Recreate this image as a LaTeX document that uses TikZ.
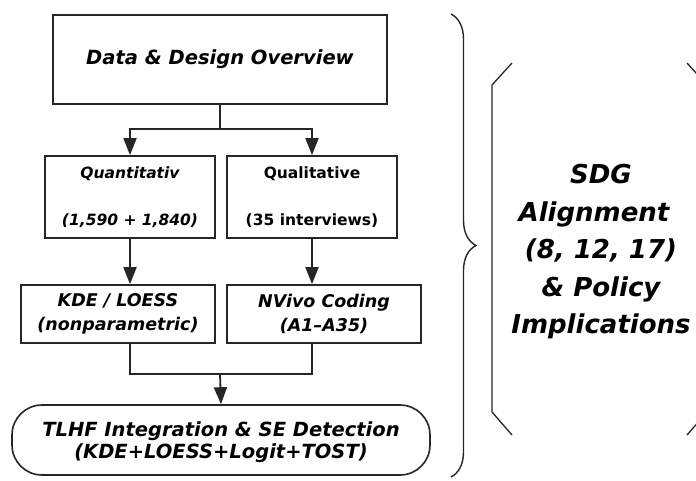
\documentclass[tikz,border=0pt]{standalone}
\usepackage{fontspec}
\setmainfont{DejaVu Sans}
\usetikzlibrary{arrows.meta,decorations.pathreplacing}
\tikzset{
	box/.style={draw=black!85, line width=1.6pt, rectangle, inner sep=0pt, align=center},
	arr/.style={draw=black!85, line width=1.8pt, -{Triangle[width=13pt,length=17pt]}},
	link/.style={draw=black!85, line width=1.8pt},
	bigbrace/.style={draw=black!85, line width=1.4pt, decorate, decoration={brace,amplitude=25pt}},
}

\begin{document}
\begin{tikzpicture}[x=1pt,y=-1pt]
			%%%%% START %%%%%
			\useasboundingbox (0,0) rectangle (696,480);
			\clip (0,0) rectangle (696,480);
			
			\node[box, minimum width=334pt, minimum height=89pt, font=\bfseries\itshape\fontsize{19.5}{24}\selectfont] (overview) at (220,59.5) {Data \& Design Overview};
			
			\node[box, minimum width=170pt, minimum height=82pt, font=\bfseries\itshape\fontsize{15.5}{47}\selectfont] (quan) at (130,197) {Quantitativ\\(1,590 + 1,840)};
			\node[box, minimum width=170pt, minimum height=82pt, font=\bfseries\fontsize{15.5}{47}\selectfont] (qual) at (312,197) {Qualitative\\(35 interviews)};
			
			\node[box, minimum width=194pt, minimum height=58pt, font=\bfseries\itshape\fontsize{17.5}{24}\selectfont] (kde) at (118,314) {KDE / LOESS\\(nonparametric)};
			\node[box, minimum width=194pt, minimum height=58pt, font=\bfseries\itshape\fontsize{17.5}{24}\selectfont] (nvivo) at (324,314) {NVivo Coding\\(A1--A35)};
			
			\node[box, rounded corners=30pt, minimum width=418pt, minimum height=70pt, text depth=0pt, font=\bfseries\itshape\fontsize{19.5}{22}\selectfont] (tlhf) at (221,440) {TLHF Integration \& SE Detection\\(KDE+LOESS+Logit+TOST)};
			
			% split and merge points
			\coordinate (split) at (220,129);
			\coordinate (join) at (220,374);
			
			\draw[link] (overview.south) -- (split);
			\draw[arr] (split) -| (quan.north);
			\draw[arr] (split) -| (qual.north);
			
			\draw[arr] (quan.south) -- (quan.south |- kde.north);
			\draw[arr] (qual.south) -- (qual.south |- nvivo.north);
			
			\draw[link] (kde.south -| quan.south) |- (join);
			\draw[link] (nvivo.south -| qual.south) |- (join);
			\draw[arr] (join) -- (tlhf.north);
			
			% right-hand side
			\draw[bigbrace] (451,14) -- (451,477);
			\draw[line width=1.3pt, black!85] (512,63) -- (492,85) -- (492,412) -- (512,435);
			\draw[line width=1.3pt, black!85] (687,63) -- (707,85) -- (707,412) -- (687,435);
			
			\node[align=center, font=\bfseries\itshape\fontsize{26}{37.5}\selectfont] (sdg) at (601,252) {SDG\\Alignment\rule{14pt}{0pt}\\(8, 12, 17)\\\& Policy\\Implications};
			
			%%%%% END %%%%%
\end{tikzpicture}
\end{document}
